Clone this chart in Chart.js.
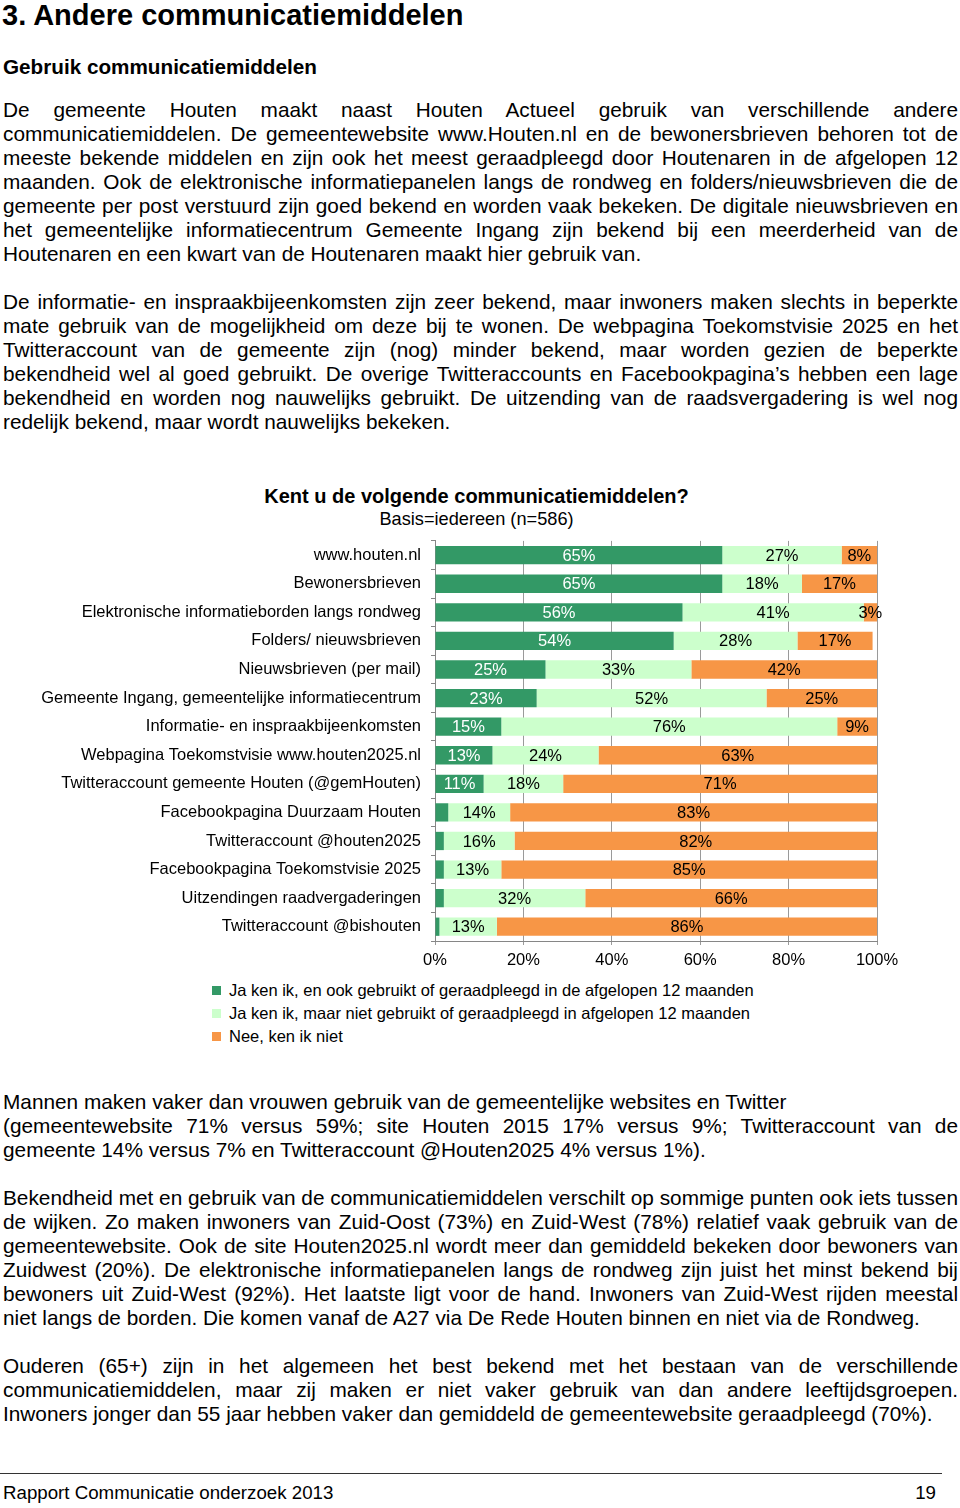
<!DOCTYPE html>
<html>
<head>
<meta charset="utf-8">
<script src="https://cdn.jsdelivr.net/npm/chart.js@4"></script>
<style>
  body { margin: 0; width: 960px; height: 1508px; position: relative; background: #fff;
         font-family: 'Liberation Sans', Arial, sans-serif; color: #000; overflow: hidden; }
  .abs { position: absolute; }
  .p { position: absolute; left: 3px; width: 955px; font-size: 20.8px; line-height: 24px; }
  .p div { white-space: nowrap; }
  .p .j { text-align: justify; text-align-last: justify; white-space: normal; }
  .leg { position: absolute; left: 212px; font-size: 16.5px; line-height: 23px; }
  .leg span.sq { display: inline-block; width: 9px; height: 9px; margin-right: 8px; vertical-align: 1px; }
</style>
</head>
<body>
<div class="abs" style="left:2px;top:0;font-size:29px;font-weight:bold;line-height:30px;">3. Andere communicatiemiddelen</div>
<div class="abs" style="left:3px;top:55px;font-size:20.7px;font-weight:bold;line-height:24px;">Gebruik communicatiemiddelen</div>

<div class="p" style="top:98px;">
  <div class="j">De gemeente Houten maakt naast Houten Actueel gebruik van verschillende andere</div>
  <div class="j">communicatiemiddelen. De gemeentewebsite www.Houten.nl en de bewonersbrieven behoren tot de</div>
  <div class="j">meeste bekende middelen en zijn ook het meest geraadpleegd door Houtenaren in de afgelopen 12</div>
  <div class="j">maanden. Ook de elektronische informatiepanelen langs de rondweg en folders/nieuwsbrieven die de</div>
  <div class="j">gemeente per post verstuurd zijn goed bekend en worden vaak bekeken. De digitale nieuwsbrieven en</div>
  <div class="j">het gemeentelijke informatiecentrum Gemeente Ingang zijn bekend bij een meerderheid van de</div>
  <div>Houtenaren en een kwart van de Houtenaren maakt hier gebruik van.</div>
</div>

<div class="p" style="top:290px;">
  <div class="j">De informatie- en inspraakbijeenkomsten zijn zeer bekend, maar inwoners maken slechts in beperkte</div>
  <div class="j">mate gebruik van de mogelijkheid om deze bij te wonen. De webpagina Toekomstvisie 2025 en het</div>
  <div class="j">Twitteraccount van de gemeente zijn (nog) minder bekend, maar worden gezien de beperkte</div>
  <div class="j">bekendheid wel al goed gebruikt. De overige Twitteraccounts en Facebookpagina’s hebben een lage</div>
  <div class="j">bekendheid en worden nog nauwelijks gebruikt. De uitzending van de raadsvergadering is wel nog</div>
  <div>redelijk bekend, maar wordt nauwelijks bekeken.</div>
</div>

<div class="abs" style="left:0;width:953px;top:484px;text-align:center;font-size:20px;font-weight:bold;line-height:24px;">Kent u de volgende communicatiemiddelen?</div>
<div class="abs" style="left:0;width:953px;top:507px;text-align:center;font-size:18.2px;line-height:24px;">Basis=iedereen (n=586)</div>

<div class="abs" style="left:0;top:521px;width:960px;height:454px;">
  <canvas id="chart" width="960" height="454"></canvas>
</div>

<div class="leg" style="top:979px;" id="legend"></div>

<div class="p" style="top:1090px;">
  <div>Mannen maken vaker dan vrouwen gebruik van de gemeentelijke websites en Twitter</div>
  <div class="j">(gemeentewebsite 71% versus 59%; site Houten 2015 17% versus 9%; Twitteraccount van de</div>
  <div>gemeente 14% versus 7% en Twitteraccount @Houten2025 4% versus 1%).</div>
</div>

<div class="p" style="top:1186px;">
  <div class="j">Bekendheid met en gebruik van de communicatiemiddelen verschilt op sommige punten ook iets tussen</div>
  <div class="j">de wijken. Zo maken inwoners van Zuid-Oost (73%) en Zuid-West (78%) relatief vaak gebruik van de</div>
  <div class="j">gemeentewebsite. Ook de site Houten2025.nl wordt meer dan gemiddeld bekeken door bewoners van</div>
  <div class="j">Zuidwest (20%). De elektronische informatiepanelen langs de rondweg zijn juist het minst bekend bij</div>
  <div class="j">bewoners uit Zuid-West (92%). Het laatste ligt voor de hand. Inwoners van Zuid-West rijden meestal</div>
  <div>niet langs de borden. Die komen vanaf de A27 via De Rede Houten binnen en niet via de Rondweg.</div>
</div>

<div class="p" style="top:1354px;">
  <div class="j">Ouderen (65+) zijn in het algemeen het best bekend met het bestaan van de verschillende</div>
  <div class="j">communicatiemiddelen, maar zij maken er niet vaker gebruik van dan andere leeftijdsgroepen.</div>
  <div>Inwoners jonger dan 55 jaar hebben vaker dan gemiddeld de gemeentewebsite geraadpleegd (70%).</div>
</div>

<div class="abs" style="left:0;top:1473px;width:942px;height:1px;background:#333;"></div>
<div class="abs" style="left:3px;top:1481px;font-size:18.7px;line-height:24px;">Rapport Communicatie onderzoek 2013</div>
<div class="abs" style="right:24px;top:1481px;font-size:18.7px;line-height:24px;">19</div>

<script>
// categories (top to bottom)
const categories = [
  'www.houten.nl',
  'Bewonersbrieven',
  'Elektronische informatieborden langs rondweg',
  'Folders/ nieuwsbrieven',
  'Nieuwsbrieven (per mail)',
  'Gemeente Ingang, gemeentelijke informatiecentrum',
  'Informatie- en inspraakbijeenkomsten',
  'Webpagina Toekomstvisie www.houten2025.nl',
  'Twitteraccount gemeente Houten (@gemHouten)',
  'Facebookpagina Duurzaam Houten',
  'Twitteraccount @houten2025',
  'Facebookpagina Toekomstvisie 2025',
  'Uitzendingen raadvergaderingen',
  'Twitteraccount @bishouten'
];

const seriesNames = [
  'Ja ken ik, en ook gebruikt of geraadpleegd in de afgelopen 12 maanden',
  'Ja ken ik, maar niet gebruikt of geraadpleegd in afgelopen 12 maanden',
  'Nee, ken ik niet'
];

const gebruikt    = [65, 65, 56, 54, 25, 23, 15, 13, 11, 3, 2, 2, 2, 1];
const nietGebruikt = [27, 18, 41, 28, 33, 52, 76, 24, 18, 14, 16, 13, 32, 13];
const kenIkNiet   = [8, 17, 3, 17, 42, 25, 9, 63, 71, 83, 82, 85, 66, 86];

const xTicks = [0, 20, 40, 60, 80, 100];

const colors = ['#339966', '#ccffcc', '#f79646'];
const labelColors = ['#ffffff', '#000000', '#000000'];
const FONT = "'Liberation Sans', Arial, sans-serif";

// legend in html
const legend = document.getElementById('legend');
seriesNames.forEach((name, i) => {
  const row = document.createElement('div');
  row.innerHTML = `<span class="sq" style="background:${colors[i]}"></span>${name}`;
  legend.appendChild(row);
});

// draw the percentages inside the segments
const segmentLabels = {
  id: 'segmentLabels',
  afterDatasetsDraw(chart) {
    const ctx = chart.ctx;
    ctx.save();
    ctx.font = `16.5px ${FONT}`;
    ctx.textAlign = 'center';
    ctx.textBaseline = 'middle';
    chart.data.datasets.forEach((ds, di) => {
      const meta = chart.getDatasetMeta(di);
      meta.data.forEach((bar, i) => {
        const v = ds.data[i];
        // the tiny green segments carry no label in the original
        if (di === 0 && v < 5) return;
        ctx.fillStyle = labelColors[di];
        ctx.fillText(v + '%', (bar.x + bar.base) / 2, bar.y + 1);
      });
    });
    ctx.restore();
  }
};

new Chart(document.getElementById('chart'), {
  type: 'bar',
  data: {
    labels: categories,
    datasets: [
      { label: seriesNames[0], data: gebruikt, backgroundColor: colors[0] },
      { label: seriesNames[1], data: nietGebruikt, backgroundColor: colors[1] },
      { label: seriesNames[2], data: kenIkNiet, backgroundColor: colors[2] }
    ]
  },
  options: {
    indexAxis: 'y',
    responsive: false,
    animation: false,
    layout: { padding: { top: 0, right: 83, bottom: 0, left: 0 } },
    datasets: { bar: { categoryPercentage: 1, barPercentage: 0.64 } },
    plugins: {
      legend: { display: false },
      tooltip: { enabled: false }
    },
    scales: {
      x: {
        stacked: true,
        min: 0,
        max: 100,
        afterBuildTicks: (scale) => { scale.ticks = xTicks.map(v => ({ value: v })); },
        afterFit: (scale) => { scale.height = 34; },
        ticks: {
          callback: (v) => v + '%',
          color: '#000',
          font: { family: FONT, size: 16.5 },
          padding: 6,
          maxRotation: 0
        },
        grid: { color: '#9a9a9a', tickLength: 4, lineWidth: 1 },
        border: { color: '#868686' }
      },
      y: {
        stacked: true,
        afterFit: (scale) => { scale.width = 435; },
        ticks: {
          color: '#000',
          font: { family: FONT, size: 16.5 },
          padding: 10,
          autoSkip: false
        },
        grid: { drawOnChartArea: false, drawTicks: true, tickLength: 4, color: '#868686', offset: true },
        border: { color: '#868686' }
      }
    }
  },
  plugins: [segmentLabels]
});
</script>
</body>
</html>
